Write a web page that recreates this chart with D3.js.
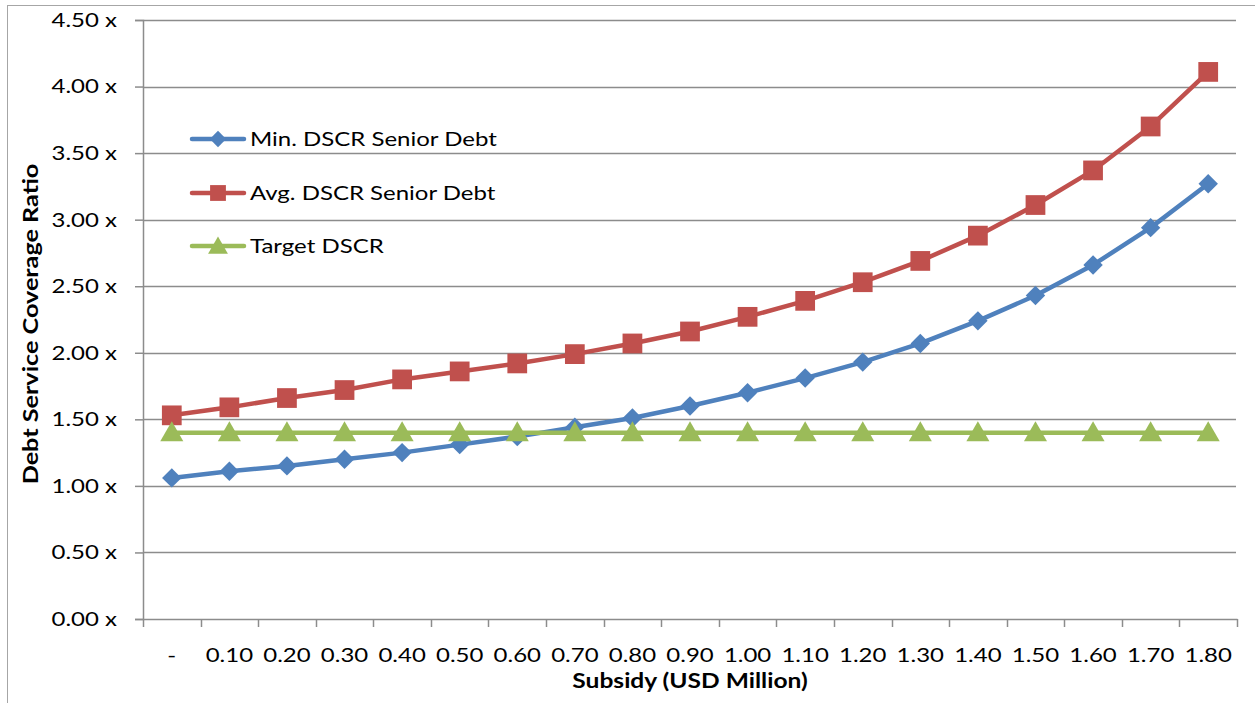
<!DOCTYPE html>
<html>
<head>
<meta charset="utf-8">
<script src="https://cdn.jsdelivr.net/npm/d3@7"></script>
<style>
  html, body { margin: 0; padding: 0; background: #fff; }
  svg { display: block; font-family: Lato, "Open Sans", sans-serif; }
</style>
</head>
<body>
<svg id="chart" width="1255" height="703"></svg>
<script>
// Subsidy levels (USD million) along the category axis
const categories = ["-", "0.10", "0.20", "0.30", "0.40", "0.50", "0.60", "0.70", "0.80", "0.90",
                    "1.00", "1.10", "1.20", "1.30", "1.40", "1.50", "1.60", "1.70", "1.80"];

// Debt service coverage ratios per subsidy level
const minDscr = [1.06, 1.11, 1.15, 1.20, 1.25, 1.31, 1.37, 1.44, 1.51, 1.60,
                 1.70, 1.81, 1.93, 2.07, 2.24, 2.43, 2.66, 2.94, 3.27];
const avgDscr = [1.53, 1.59, 1.66, 1.72, 1.80, 1.86, 1.92, 1.99, 2.07, 2.16,
                 2.27, 2.39, 2.53, 2.69, 2.88, 3.11, 3.37, 3.70, 4.11];
const targetDscr = [1.40, 1.40, 1.40, 1.40, 1.40, 1.40, 1.40, 1.40, 1.40, 1.40,
                    1.40, 1.40, 1.40, 1.40, 1.40, 1.40, 1.40, 1.40, 1.40];

const yTicks = [0, 0.5, 1, 1.5, 2, 2.5, 3, 3.5, 4, 4.5];

const seriesNames = ["Min. DSCR Senior Debt", "Avg. DSCR Senior Debt", "Target DSCR"];
const seriesColors = ["#4F81BD", "#C0504D", "#9BBB59"];
const seriesMarkers = [d3.symbolDiamond2, d3.symbolSquare, d3.symbolTriangle];

const series = [minDscr, avgDscr, targetDscr].map((vals, i) => ({
  name: seriesNames[i], color: seriesColors[i], marker: seriesMarkers[i], values: vals
}));

// Text is drawn with a slight horizontal widening to get Calibri-like proportions
const WIDEN = 1.2;

const svg = d3.select("#chart");
const plot = { left: 143, right: 1237, top: 20, bottom: 619 };

const x = d3.scaleBand().domain(categories).range([plot.left, plot.right]).padding(0);
const y = d3.scaleLinear().domain([0, 4.5]).range([plot.bottom, plot.top]);

// Outer chart border
svg.append("rect")
  .attr("x", 7.5).attr("y", 5.5).attr("width", 1260).attr("height", 720)
  .attr("fill", "none").attr("stroke", "#a6a6a6").attr("stroke-width", 1);

// Horizontal gridlines
svg.append("g").selectAll("line")
  .data(yTicks.filter(t => t > 0))
  .join("line")
  .attr("x1", plot.left).attr("x2", plot.right - 1)
  .attr("y1", d => Math.round(y(d)) + 0.5).attr("y2", d => Math.round(y(d)) + 0.5)
  .attr("stroke", "#8c8c8c").attr("stroke-width", 1.5);

// Y axis
const yAxis = svg.append("g")
  .attr("transform", `translate(${plot.left},0)`)
  .call(d3.axisLeft(y).tickValues(yTicks).tickSize(8)
    .tickFormat(d => d3.format(".2f")(d) + " x"));
yAxis.select(".domain").attr("stroke", "#8c8c8c").attr("stroke-width", 1.5);
yAxis.selectAll(".tick line").attr("stroke", "#8c8c8c").attr("stroke-width", 1.5);
yAxis.selectAll(".tick text")
  .attr("font-size", 20).attr("fill", "#000").attr("font-family", "Lato, sans-serif")
  .attr("x", -26 / WIDEN).attr("transform", `scale(${WIDEN},1)`);

// X axis: labels at category centres, ticks at category boundaries
const xAxis = svg.append("g")
  .attr("transform", `translate(0,${plot.bottom})`)
  .call(d3.axisBottom(x).tickSize(0).tickPadding(29));
xAxis.select(".domain").attr("stroke", "#8c8c8c").attr("stroke-width", 1.5);
xAxis.selectAll(".tick text")
  .attr("font-size", 20).attr("fill", "#000").attr("font-family", "Lato, sans-serif")
  .attr("transform", `scale(${WIDEN},1)`);
xAxis.selectAll(".boundary")
  .data(categories.map(c => x(c)).concat([x.range()[1]]))
  .join("line")
  .attr("class", "boundary")
  .attr("x1", d => Math.round(d) + 0.5).attr("x2", d => Math.round(d) + 0.5)
  .attr("y1", 0).attr("y2", 8)
  .attr("stroke", "#8c8c8c").attr("stroke-width", 1.5);

// Series lines and markers
const cx = c => x(c) + x.bandwidth() / 2;
const line = d3.line().x((d, i) => cx(categories[i])).y(d => y(d));

const markerSize = m => m === d3.symbolTriangle ? 230 : (m === d3.symbolSquare ? 390 : 240);
const markerShift = m => m === d3.symbolTriangle ? 2 : 0;

series.forEach(s => {
  const g = svg.append("g");
  g.append("path")
    .attr("d", line(s.values))
    .attr("fill", "none").attr("stroke", s.color).attr("stroke-width", 4.5)
    .attr("stroke-linejoin", "round");
  g.selectAll("path.m")
    .data(s.values)
    .join("path")
    .attr("class", "m")
    .attr("d", d3.symbol().type(s.marker).size(markerSize(s.marker)))
    .attr("transform", (d, i) => `translate(${cx(categories[i])},${y(d) + markerShift(s.marker)})`)
    .attr("fill", s.color);
});

// Legend
const legend = svg.append("g");
const legendRows = [139, 193, 246];
series.forEach((s, i) => {
  const ly = legendRows[i];
  legend.append("line")
    .attr("x1", 192).attr("x2", 244).attr("y1", ly).attr("y2", ly)
    .attr("stroke", s.color).attr("stroke-width", 4.5).attr("stroke-linecap", "round");
  legend.append("path")
    .attr("d", d3.symbol().type(s.marker).size(s.marker === d3.symbolSquare ? 250 : 170))
    .attr("transform", `translate(218,${ly + markerShift(s.marker)})`)
    .attr("fill", s.color);
  legend.append("text")
    .attr("transform", `translate(250,${ly}) scale(${WIDEN},1)`)
    .attr("dy", "0.36em")
    .attr("font-size", 20).attr("fill", "#000")
    .text(s.name);
});

// Axis titles
svg.append("text")
  .attr("transform", `translate(690,688) scale(1.17,1)`)
  .attr("text-anchor", "middle").attr("font-size", 21).attr("font-weight", "bold")
  .text("Subsidy (USD Million)");

svg.append("text")
  .attr("transform", `translate(38,324) rotate(-90) scale(1.2,1)`)
  .attr("text-anchor", "middle").attr("font-size", 21).attr("font-weight", "bold")
  .text("Debt Service Coverage Ratio");
</script>
</body>
</html>
